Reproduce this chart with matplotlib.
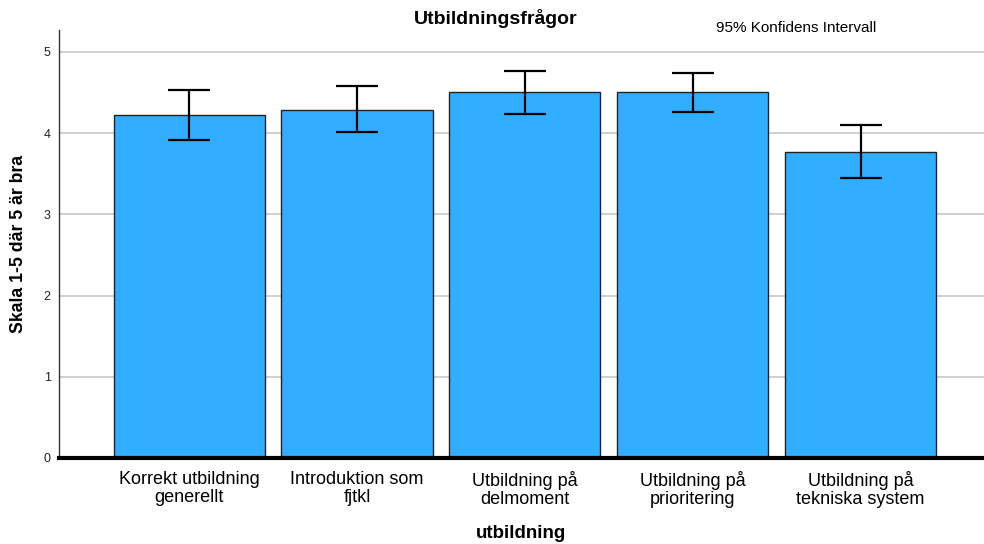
import matplotlib
matplotlib.use("Agg")
import matplotlib.pyplot as plt
import numpy as np

# data
categories = ["Korrekt utbildning\ngenerellt", "Introduktion som\nfjtkl",
              "Utbildning på\ndelmoment", "Utbildning på\nprioritering",
              "Utbildning på\ntekniska system"]
means = [4.22, 4.29, 4.51, 4.51, 3.77]
ci_low = [3.92, 4.01, 4.24, 4.26, 3.45]
ci_high = [4.53, 4.58, 4.77, 4.74, 4.10]

plt.rcParams['font.family'] = ['Liberation Sans', 'DejaVu Sans']

fig = plt.figure(figsize=(9.84, 5.44), dpi=100)
ax = fig.add_axes([59/984, (544-458)/544, 1 - 59/984, (458-30)/544])

x = np.arange(len(categories))
m = np.array(means)
yerr = [m - np.array(ci_low), np.array(ci_high) - m]

ax.bar(x, m, width=0.9, color='#31aeff', edgecolor='#222222', linewidth=1, zorder=2)
ax.errorbar(x, m, yerr=yerr, fmt='none', ecolor='black', elinewidth=1.6,
            capsize=15, capthick=1.6, zorder=3)

ax.set_xlim(-0.775, 4.735)
ax.set_ylim(0, 5.27)
ax.set_yticks([0, 1, 2, 3, 4, 5])
ax.yaxis.grid(True, color='#c8c8c8', linewidth=1.2, zorder=0)
ax.set_axisbelow(True)

for s in ['top', 'right']:
    ax.spines[s].set_visible(False)
ax.spines['left'].set_color('#333333')
ax.spines['left'].set_linewidth(1)
ax.spines['bottom'].set_linewidth(3)
ax.spines['bottom'].set_color('black')

ax.tick_params(axis='y', length=0, labelsize=9, pad=6, colors='#222222')
ax.tick_params(axis='x', length=0, labelsize=13, pad=9)
ax.set_xticks(x)
ax.set_xticklabels(categories, linespacing=1.1)

ax.set_ylabel("Skala 1-5 där 5 är bra", fontsize=12.7, fontweight='bold', labelpad=12)

fig.text(521/984, 1 - 533/544, "utbildning", ha='center', va='center',
         fontsize=13.5, fontweight='bold')
fig.text(496/984, 1 - 19/544, "Utbildningsfrågor", ha='center', va='center',
         fontsize=14, fontweight='bold')
fig.text(796/984, 1 - 28/544, "95% Konfidens Intervall", ha='center', va='center',
         fontsize=11)

fig.savefig("out.png", dpi=100)
